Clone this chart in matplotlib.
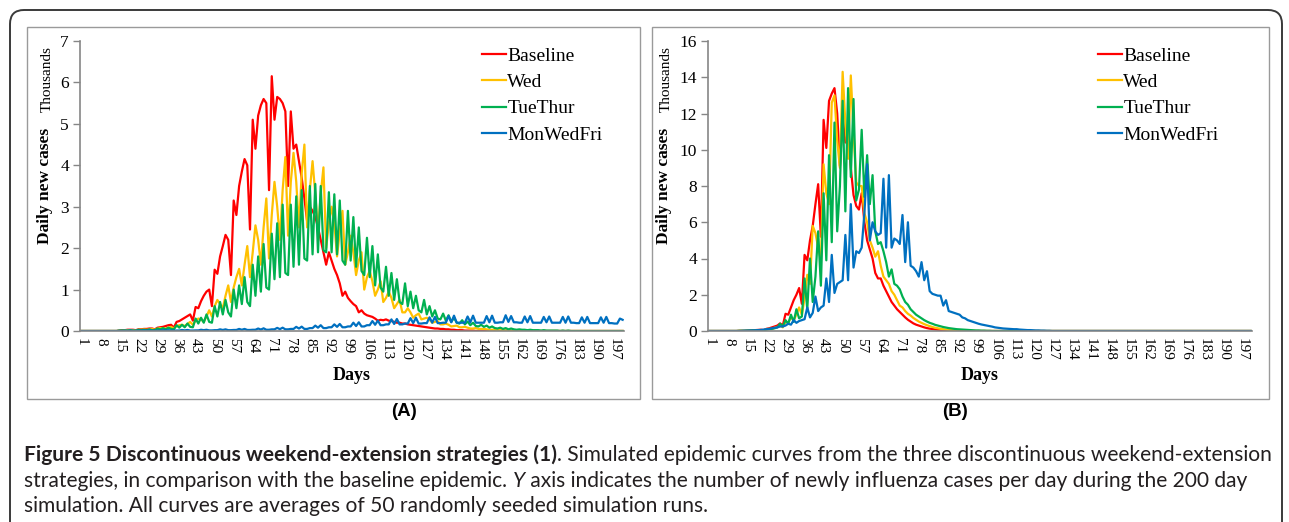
import matplotlib
matplotlib.use("Agg")
import matplotlib.pyplot as plt
from matplotlib.patches import Rectangle, FancyBboxPatch

W, H = 1289, 522

days = list(range(1, 201))
tick_days = list(range(1, 201, 7))
series_names = ['Baseline', 'Wed', 'TueThur', 'MonWedFri']
colors = ['#ff0000', '#ffc000', '#00b050', '#0070c0']

# Panel A, daily new cases (thousands), one row per week
a_baseline = [
    0, 0, 0, 0, 0, 0, 0,
    0, 0, 0, 0, 0, 0, 0,
    .01, .02, .02, .03, .03, .03, .02,
    .04, .04, .05, .05, .06, .06, .04,
    .08, .09, .1, .12, .14, .15, .08,
    .22, .24, .28, .32, .36, .4, .25,
    .58, .55, .72, .85, .95, 1.0, .6,
    1.48, 1.38, 1.8, 2.05, 2.32, 2.2, 1.35,
    3.15, 2.8, 3.5, 3.85, 4.15, 4.0, 2.45,
    5.1, 4.4, 5.2, 5.45, 5.6, 5.5, 3.4,
    6.15, 5.1, 5.65, 5.6, 5.5, 5.3, 3.5,
    5.3, 4.4, 4.5, 4.1, 3.7, 3.2, 2.65,
    3.0, 2.9, 2.75, 2.5, 2.2, 1.9, 1.6,
    1.9, 1.7, 1.5, 1.35, 1.15, .85, .95,
    .8, .72, .65, .6, .45, .5, .42,
    .38, .36, .34, .3, .25, .27, .26,
    .28, .25, .24, .22, .2, .2, .18,
    .18, .16, .15, .14, .13, .12, .11,
    .1, .09, .08, .07, .06, .06, .05,
    .05, .04, .04, .03, .03, .02, .02,
    .02, .01, .01, .01, .01, 0, 0,
] + [0] * 53

a_wed = [
    0, 0, 0, 0, 0, 0, 0,
    0, 0, 0, 0, 0, 0, 0,
    .01, .01, .02, .02, .02, .02, .01,
    .03, .03, .04, .03, .04, .05, .03,
    .06, .07, .07, .06, .08, .1, .06,
    .12, .14, .15, .12, .17, .22, .15,
    .25, .3, .28, .22, .35, .5, .35,
    .6, .75, .65, .55, .85, 1.1, .7,
    1.05, 1.3, 1.5, 1.1, 1.6, 2.05, 1.3,
    1.9, 2.55, 2.2, 1.6, 2.5, 3.2, 1.75,
    2.8, 3.6, 3.0, 2.2, 3.4, 4.2, 2.3,
    3.6, 4.3, 3.6, 2.5, 3.8, 4.5, 2.5,
    3.4, 4.1, 3.3, 2.4, 3.3, 3.95, 2.0,
    2.6, 3.0, 2.6, 1.8, 2.4, 2.9, 1.6,
    1.9, 2.3, 1.9, 1.35, 1.7, 1.9, 1.0,
    1.3, 1.45, 1.2, .85, 1.0, 1.2, .7,
    .8, .95, .8, .55, .65, .75, .45,
    .45, .55, .45, .32, .38, .42, .28,
    .3, .32, .27, .2, .22, .24, .16,
    .16, .18, .15, .11, .12, .13, .09,
    .09, .1, .08, .06, .06, .07, .05,
    .05, .05, .04, .03, .03, .03, .02,
    .02, .02, .02, .01, .01, .01, .01,
] + [0] * 39

a_tuethur = [
    0, 0, 0, 0, 0, 0, 0,
    0, 0, 0, 0, 0, 0, 0,
    .01, .01, .01, .01, .02, .01, .01,
    .03, .02, .03, .02, .04, .02, .02,
    .06, .04, .07, .04, .08, .05, .04,
    .14, .08, .15, .09, .18, .1, .09,
    .3, .18, .32, .2, .4, .22, .2,
    .6, .35, .7, .4, .75, .45, .35,
    1.0, .55, 1.1, .65, 1.3, .7, .6,
    1.6, .85, 1.8, .95, 2.1, 1.05, 1.0,
    2.35, 1.25, 2.6, 1.3, 3.05, 1.4, 1.35,
    3.05, 1.55, 3.25, 1.6, 3.4, 1.75, 1.7,
    3.5, 1.85, 3.55, 1.9, 3.5, 1.95, 1.9,
    3.35, 1.9, 3.3, 1.85, 3.15, 1.7, 1.6,
    2.9, 1.7, 2.75, 1.55, 2.5, 1.45, 1.35,
    2.25, 1.3, 2.05, 1.1, 1.85, 1.05, .95,
    1.55, .85, 1.4, .75, 1.25, .7, .65,
    1.15, .6, .95, .55, .85, .5, .45,
    .75, .4, .6, .35, .5, .3, .28,
    .42, .25, .38, .22, .32, .2, .18,
    .26, .16, .23, .14, .2, .12, .11,
    .15, .1, .13, .08, .11, .07, .06,
    .08, .05, .07, .04, .06, .04, .03,
    .04, .03, .03, .02, .03, .02, .02,
    .02, .01, .02, .01, .01, .01, .01,
    .01, 0, .01, 0, .01, 0, 0,
] + [0] * 18

a_monwedfri = [
    0, 0, 0, 0, 0, 0, 0,
    0, 0, 0, 0, 0, 0, 0,
    .005, .005, .01, .005, .01, .005, .005,
    .008, .008, .015, .01, .015, .008, .008,
    .01, .01, .02, .012, .02, .01, .01,
    .012, .012, .025, .015, .025, .012, .012,
    .015, .015, .03, .02, .03, .015, .015,
    .02, .02, .04, .025, .04, .02, .02,
    .025, .025, .05, .03, .05, .025, .025,
    .03, .03, .06, .035, .065, .03, .03,
    .04, .04, .075, .045, .08, .04, .04,
    .05, .05, .1, .06, .105, .05, .05,
    .07, .07, .13, .08, .14, .07, .07,
    .09, .09, .16, .1, .17, .09, .09,
    .11, .11, .2, .12, .21, .11, .11,
    .14, .14, .24, .15, .25, .14, .14,
    .16, .16, .28, .17, .29, .16, .16,
    .18, .18, .31, .19, .32, .18, .18,
    .19, .19, .33, .2, .34, .19, .19,
    .2, .2, .36, .21, .37, .2, .2,
    .2, .2, .35, .21, .37, .2, .2,
    .2, .2, .36, .21, .37, .2, .2,
    .21, .21, .38, .22, .36, .21, .21,
    .2, .2, .35, .21, .36, .2, .2,
    .2, .2, .34, .21, .35, .2, .2,
    .2, .2, .34, .2, .35, .2, .2,
    .19, .19, .33, .2, .34, .19, .19,
    .19, .19, .33, .2, .34, .19, .19,
    .18, .18, .3, .27,
]

# Panel B, daily new cases (thousands), one row per week
b_baseline = [
    0, 0, 0, 0, 0, 0, 0,
    0, 0, 0, 0, .01, .01, .01,
    .02, .03, .04, .05, .06, .07, .05,
    .12, .15, .2, .25, .3, .42, .3,
    .95, .9, 1.3, 1.7, 2.0, 2.37, 1.5,
    4.2, 3.9, 5.0, 5.8, 7.0, 8.1, 5.2,
    11.65, 10.1, 12.7, 13.1, 13.4, 12.0, 9.1,
    11.8, 10.4, 10.9, 9.0, 7.5, 6.9, 6.7,
    7.6, 6.0, 5.0, 4.5, 4.0, 3.2, 2.9,
    2.9, 2.5, 2.2, 1.9, 1.6, 1.4, 1.2,
    1.05, .9, .75, .62, .52, .42, .35,
    .3, .25, .2, .16, .13, .11, .09,
    .07, .06, .05, .04, .03, .02, .02,
    .01, .01, .01, 0, 0, 0, 0,
] + [0] * 102

b_wed = [
    0, 0, 0, 0, 0, 0, 0,
    0, 0, 0, 0, .01, .01, .01,
    .02, .02, .02, .03, .04, .03, .03,
    .1, .12, .1, .18, .22, .3, .2,
    .5, .45, .75, .6, .9, 1.3, .9,
    1.8, 3.1, 2.6, 5.8, 5.4, 4.6, 3.9,
    9.2, 7.6, 7.0, 12.6, 13.0, 10.5, 9.0,
    14.3, 11.5, 9.5, 14.1, 11.0, 8.2, 8.0,
    8.0, 6.5, 6.0, 5.0, 4.6, 4.1, 4.4,
    3.6, 3.0, 2.8, 2.6, 2.2, 2.0, 1.7,
    1.4, 1.3, 1.1, .95, .85, .72, .62,
    .52, .45, .38, .32, .27, .22, .18,
    .15, .12, .1, .08, .06, .05, .04,
    .03, .02, .02, .01, .01, 0, 0,
] + [0] * 102

b_tuethur = [
    0, 0, 0, 0, 0, 0, 0,
    0, 0, 0, 0, .01, .01, .01,
    .02, .02, .03, .03, .04, .05, .04,
    .08, .1, .12, .15, .2, .4, .25,
    .6, .4, .9, .5, 1.2, .7, .8,
    2.9, 1.2, 4.0, 1.6, 3.0, 5.5, 2.5,
    7.6, 3.9, 9.7, 4.9, 11.5, 5.5, 8.0,
    12.7, 6.6, 13.4, 8.5, 12.8, 7.2, 7.8,
    11.1, 7.4, 9.7, 7.0, 8.6, 5.5, 4.8,
    4.9, 4.4, 3.8, 3.0, 3.4, 2.6, 2.5,
    2.3, 1.9, 1.6, 1.45, 1.2, 1.05, .9,
    .8, .7, .6, .52, .45, .4, .34,
    .3, .26, .22, .19, .16, .14, .12,
    .1, .09, .08, .07, .06, .05, .04,
    .03, .03, .02, .02, .01, .01, 0,
] + [0] * 95

b_monwedfri = [
    0, 0, 0, 0, 0, 0, 0,
    0, 0, 0, 0, 0, .01, .02,
    .02, .03, .03, .04, .05, .06, .08,
    .1, .12, .15, .18, .2, .25, .25,
    .3, .4, .35, .6, .45, .55, .6,
    .65, 1.3, .75, 1.0, 1.9, 1.1, 1.3,
    1.4, 2.9, 1.6, 4.2, 2.1, 2.6, 2.7,
    2.8, 5.3, 2.8, 7.0, 3.5, 4.4, 4.3,
    4.6, 6.5, 9.2, 5.0, 6.0, 5.5, 5.3,
    5.4, 8.4, 4.6, 8.6, 4.6, 5.1, 5.0,
    4.8, 6.4, 3.8, 6.0, 3.6, 3.5, 3.3,
    3.0, 3.8, 2.8, 3.3, 2.2, 2.05, 2.0,
    1.95, 1.95, 1.4, 1.7, 1.1, 1.05, 1.0,
    .95, .9, .75, .7, .6, .55, .5,
    .45, .4, .36, .33, .3, .27, .24,
    .2, .18, .16, .14, .13, .12, .11,
    .1, .1, .08, .07, .06, .05, .05,
    .04, .03, .03, .02, .02, .01, .01,
] + [0] * 74

panel_a = [a_baseline, a_wed, a_tuethur, a_monwedfri]
panel_b = [b_baseline, b_wed, b_tuethur, b_monwedfri]


def box(x0, y0, x1, y1):
    # pixel box measured from the top-left corner -> figure fraction
    return [x0 / W, 1 - y1 / H, (x1 - x0) / W, (y1 - y0) / H]


def fx(x):
    return x / W


def fy(y):
    return 1 - y / H


serif = 'Liberation Serif'
axis_grey = '#868686'

fig = plt.figure(figsize=(W / 100, H / 100), dpi=100)

# outer rounded frame (open at the bottom) and the two panel boxes
frame = FancyBboxPatch((0.10, -0.6), 12.72, 5.72,
                       boxstyle='round,pad=0,rounding_size=0.14',
                       transform=fig.dpi_scale_trans, fill=False,
                       edgecolor='#3a3a3a', linewidth=1.4)
fig.patches.append(frame)
for x0, x1 in [(27, 640), (652, 1269)]:
    fig.patches.append(Rectangle((fx(x0), fy(399)), fx(x1 - x0), (399 - 27) / H,
                                 transform=fig.transFigure, fill=False,
                                 edgecolor='#9a9a9a', linewidth=1.0))


def draw_panel(rect, data, ymax, ystep, ylabel_x, legend_x, days_x):
    ax = fig.add_axes(box(*rect))
    for values, name, c in zip(data, series_names, colors):
        ax.plot(days, values, color=c, linewidth=1.6, label=name)
    ax.set_xlim(0.5, 200.5)
    ax.set_ylim(0, ymax)
    ax.set_yticks(range(0, ymax + 1, ystep))
    ax.set_xticks(tick_days)
    ax.set_xticklabels([str(d) for d in tick_days], rotation=270,
                       family=serif, fontsize=11)
    for lab in ax.get_yticklabels():
        lab.set_family(serif)
        lab.set_fontsize(12.5)
    ax.tick_params(axis='x', length=0, pad=5)
    ax.tick_params(axis='y', length=5, width=1, color=axis_grey, pad=3)
    for s in ['top', 'right']:
        ax.spines[s].set_visible(False)
    for s in ['left', 'bottom']:
        ax.spines[s].set_color(axis_grey)
        ax.spines[s].set_linewidth(1.2)
    ax.legend(loc='upper left', bbox_to_anchor=(fx(legend_x), fy(47)),
              bbox_transform=fig.transFigure, frameon=False,
              prop={'family': serif, 'size': 14}, handlelength=1.25,
              handletextpad=0.05, labelspacing=0.45, borderpad=0,
              borderaxespad=0)
    fig.text(fx(ylabel_x + 2), fy(79), 'Thousands', rotation=90, family=serif,
             fontsize=11, ha='center', va='center')
    fig.text(fx(ylabel_x), fy(186), 'Daily new cases', rotation=90,
             family=serif, fontsize=12.5, fontweight='bold',
             ha='center', va='center')
    fig.text(fx(days_x), fy(376), 'Days', family=serif, fontsize=13,
             fontweight='bold', ha='center', va='center')
    return ax


draw_panel((80, 41, 624, 331), panel_a, 7, 1, 45, 482, 352)
draw_panel((708, 41, 1252, 331), panel_b, 16, 2, 664, 1098, 980)

fig.text(fx(404), fy(411), '(A)', family=['Liberation Sans Narrow', 'Liberation Sans'],
         fontsize=13.5, fontweight='bold', ha='center', va='center')
fig.text(fx(955), fy(411), '(B)', family=['Liberation Sans Narrow', 'Liberation Sans'],
         fontsize=13.5, fontweight='bold', ha='center', va='center')

# caption, drawn piece by piece so bold and italic parts can sit inline
cap_font = 'Lato'
cap_size = 15.1
cap_color = '#231f20'
renderer = fig.canvas.get_renderer()


def text_width(s, **kw):
    t = fig.text(0, 0, s + '|', family=cap_font, fontsize=cap_size, **kw)
    t2 = fig.text(0, 0, '|', family=cap_font, fontsize=cap_size, **kw)
    w = t.get_window_extent(renderer).width - t2.get_window_extent(renderer).width
    t.remove()
    t2.remove()
    return w


def caption_line(y, pieces, x=24):
    for s, kw in pieces:
        fig.text(fx(x), fy(y), s, family=cap_font, fontsize=cap_size,
                 color=cap_color, va='baseline', ha='left', **kw)
        x += text_width(s, **kw)


caption_line(461, [('Figure 5 Discontinuous weekend-extension strategies (1)', {'fontweight': 'bold'}),
                   ('. Simulated epidemic curves from the three discontinuous weekend-extension', {})])
caption_line(487, [('strategies, in comparison with the baseline epidemic. ', {}),
                   ('Y', {'fontstyle': 'italic'}),
                   (' axis indicates the number of newly influenza cases per day during the 200 day', {})])
caption_line(512, [('simulation. All curves are averages of 50 randomly seeded simulation runs.', {})])

fig.savefig('out.png', dpi=100)
